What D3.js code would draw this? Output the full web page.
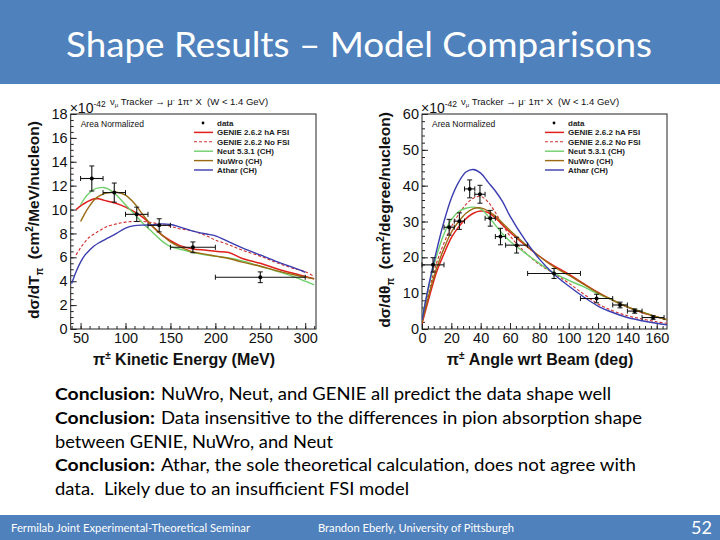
<!DOCTYPE html>
<html><head><meta charset="utf-8">
<script src="https://cdn.jsdelivr.net/npm/d3@7"></script>
<style>
html,body{margin:0;padding:0;background:#fff;}
svg{display:block;}
text{white-space:pre;}
</style></head>
<body>
<svg id="c" width="720" height="540"></svg>
<script>
// ---------- DATA ----------
// Left panel: pion kinetic energy (MeV)
const tBinLo = [50, 75, 100, 125, 150, 200];
const tBinHi = [75, 100, 125, 150, 200, 300];
const tData  = [12.6, 11.42, 9.6, 8.68, 6.84, 4.33];
const tErr   = [1.05, 0.8, 0.6, 0.55, 0.45, 0.45];
const tGrid  = [40,45,50,55,60,65,70,75,80,90,100,110,120,130,140,150,160,175,190,200,215,230,250,270,290,300,310];
const tGenieHA  = [null,10.0,10.3,10.55,10.75,10.9,10.9,10.8,10.7,10.5,10.2,9.8,9.3,8.6,7.9,7.4,7.0,6.7,6.6,6.5,6.4,5.9,5.5,5.0,4.6,4.4,4.2];
const tGenieNo  = [null,6.2,6.8,7.3,7.7,7.95,8.2,8.4,8.6,8.8,8.95,9.0,9.0,8.9,8.75,8.6,8.4,8.2,7.8,7.45,7.05,6.6,6.1,5.5,5.0,4.8,4.4];
const tNeut     = [null,null,10.4,11.0,11.4,11.7,11.82,11.85,11.75,11.2,10.4,9.6,8.8,8.1,7.4,6.9,6.7,6.4,6.2,6.1,5.95,5.7,5.25,4.8,4.3,4.0,3.7];
const tNuWro    = [null,null,9.0,9.7,10.3,10.8,11.1,11.3,11.4,11.45,11.2,10.5,9.5,8.6,7.9,7.3,6.9,6.45,6.25,6.1,5.9,5.6,5.25,4.85,4.5,4.35,4.2];
const tAthar    = [3.8,4.8,5.6,6.2,6.6,6.95,7.2,7.4,7.6,8.0,8.45,8.65,8.7,8.72,8.8,8.75,8.55,8.2,7.95,7.8,7.3,6.8,6.2,5.6,5.05,4.75,null];
const tXTicks = [50,100,150,200,250,300];
const tYTicks = [0,2,4,6,8,10,12,14,16,18];

// Right panel: pion angle (deg)
const aBinLo = [0, 15, 22, 29, 36, 43, 50, 57, 72, 108, 130, 140, 150];
const aBinHi = [15, 22, 29, 36, 43, 50, 57, 72, 108, 130, 140, 150, 165];
const aData  = [17.9, 28.4, 30.1, 39.1, 37.6, 30.9, 25.8, 23.4, 15.5, 8.5, 6.7, 5.0, 3.2];
const aErr   = [2.0, 2.2, 2.3, 2.5, 2.5, 2.2, 2.3, 2.2, 1.4, 1.2, 0.8, 0.6, 0.5];
const aGrid  = [0,5,10,15,20,25,30,35,40,45,50,55,60,70,80,90,100,110,120,130,140,150,160,167];
const aGenieHA = [1.5,9,16,21,25.5,28.5,30.8,32.3,32.9,32.5,31,29,27,23.5,20.3,17.6,15.3,12.7,10.2,8.0,6.1,4.6,3.4,2.6];
const aGenieNo = [2,11,18.5,24,28.5,32,34.8,36.5,37,35.5,32.5,29,26,21.5,18,15.5,12.8,9.8,7.0,5.1,3.7,2.8,2.0,1.6];
const aNeut    = [3,12.5,20.5,26.5,30.5,32.8,33.7,34,33.5,31.5,29,26.5,24.5,21.3,18.3,15.6,13.6,11.8,9.8,8.0,6.2,4.8,3.4,2.6];
const aNuWro   = [1.8,10,17,22.5,27,30,32.3,33.6,33.8,33,31.5,29.5,27.5,23.8,20.3,17.3,15.0,12.5,10.1,8.1,6.2,4.7,3.4,2.6];
const aAthar   = [2.5,13,22,30,36.5,41,43.8,44.5,43.5,41,38.5,35.5,31.5,25,19.5,15.3,12.0,9.0,6.4,4.6,3.2,2.3,1.6,1.2];
const aXTicks = [0,20,40,60,80,100,120,140,160];
const aYTicks = [0,10,20,30,40,50,60];

const legendLabels = ["data","GENIE 2.6.2 hA FSI","GENIE 2.6.2 No FSI","Neut 5.3.1 (CH)","NuWro (CH)","Athar (CH)"];
const bodyLines = [
  ["Conclusion:", "NuWro, Neut, and GENIE all predict the data shape well"],
  ["Conclusion:", "Data insensitive to the differences in pion absorption shape"],
  ["", "between GENIE, NuWro, and Neut"],
  ["Conclusion:", "Athar, the sole theoretical calculation, does not agree with"],
  ["", "data.  Likely due to an insufficient FSI model"]
];

// ---------- STYLE ----------
const BLUE_BAR = "#4F81BD";
const styles = [
  {stroke:"#e0201c", dash:null, w:1.5},
  {stroke:"#d0302c", dash:"3,2", w:1.1},
  {stroke:"#6fcf6a", dash:null, w:1.4},
  {stroke:"#9a6a12", dash:null, w:1.4},
  {stroke:"#3a3cb0", dash:null, w:1.4}
];
const SLIDE_FONT = "Lato, 'Open Sans', sans-serif";
const PLOT_FONT = "'Liberation Sans', Arial, Helvetica, sans-serif";

const svg = d3.select("#c");

// header
svg.append("rect").attr("x",0).attr("y",0).attr("width",720).attr("height",84).attr("fill",BLUE_BAR);
svg.append("text").attr("x",66).attr("y",57).attr("fill","#fff")
  .attr("font-family",SLIDE_FONT).attr("font-size",35)
  .attr("textLength",586).attr("lengthAdjust","spacingAndGlyphs")
  .text("Shape Results \u2013 Model Comparisons");

// footer
svg.append("rect").attr("x",0).attr("y",515).attr("width",720).attr("height",25).attr("fill",BLUE_BAR);
svg.append("text").attr("x",11).attr("y",532).attr("fill","#fff").attr("font-family",SLIDE_FONT).attr("font-size",11.5)
  .attr("textLength",239).attr("lengthAdjust","spacingAndGlyphs").text("Fermilab Joint Experimental-Theoretical Seminar");
svg.append("text").attr("x",318).attr("y",532).attr("fill","#fff").attr("font-family",SLIDE_FONT).attr("font-size",11.5)
  .attr("textLength",196).attr("lengthAdjust","spacingAndGlyphs").text("Brandon Eberly, University of Pittsburgh");
svg.append("text").attr("x",712).attr("y",534).attr("fill","#fff").attr("font-family",SLIDE_FONT).attr("font-size",18)
  .attr("text-anchor","end").text("52");

// body text
const lineY = [400, 424, 447.5, 471, 495];
const restX = [161, 161, 55, 161, 55];
const restEnd = [611, 642, 333, 636, 409];
bodyLines.forEach((l, i) => {
  if (l[0]) {
    svg.append("text").attr("x",55).attr("y",lineY[i]).attr("font-family",SLIDE_FONT).attr("font-size",17.5)
      .attr("font-weight","bold").attr("fill","#000")
      .attr("textLength",100).attr("lengthAdjust","spacingAndGlyphs").text(l[0]);
  }
  svg.append("text").attr("x",restX[i]).attr("y",lineY[i]).attr("font-family",SLIDE_FONT).attr("font-size",17.5)
    .attr("fill","#000").attr("textLength",restEnd[i]-restX[i]).attr("lengthAdjust","spacingAndGlyphs").text(l[1]);
});

// ---------- PLOT FUNCTION ----------
function drawPanel(cfg) {
  const x = d3.scaleLinear().domain(cfg.xDomain).range([cfg.x0, cfg.x1]);
  const y = d3.scaleLinear().domain(cfg.yDomain).range([cfg.y0, cfg.y1]);
  const g = svg.append("g");
  const clipId = "clip" + cfg.id;
  svg.append("clipPath").attr("id", clipId).append("rect")
    .attr("x", cfg.x0).attr("y", cfg.y1).attr("width", cfg.x1 - cfg.x0).attr("height", cfg.y0 - cfg.y1);

  // axes (inward ticks, ROOT style)
  const xAxis = d3.axisBottom(x).tickValues(cfg.xTicks).tickSize(-6).tickSizeOuter(0).tickPadding(4).tickFormat(d3.format("d"));
  const xMinor = d3.axisBottom(x).tickValues(cfg.xMinor).tickSize(-3).tickSizeOuter(0).tickFormat("");
  const yAxis = d3.axisLeft(y).tickValues(cfg.yTicks).tickSize(-6).tickSizeOuter(0).tickPadding(3).tickFormat(d3.format("d"));
  const yMinor = d3.axisLeft(y).tickValues(cfg.yMinor).tickSize(-3).tickSizeOuter(0).tickFormat("");
  const axG = [
    g.append("g").attr("transform", `translate(0,${cfg.y0})`).call(xMinor),
    g.append("g").attr("transform", `translate(0,${cfg.y0})`).call(xAxis),
    g.append("g").attr("transform", `translate(${cfg.x0},0)`).call(yMinor),
    g.append("g").attr("transform", `translate(${cfg.x0},0)`).call(yAxis)
  ];
  axG.forEach(a => {
    a.selectAll("text").attr("font-family", PLOT_FONT).attr("font-size", 14.5).attr("fill", "#111");
    a.selectAll("line").attr("stroke", "#222");
    a.select(".domain").remove();
  });

  // frame
  g.append("rect").attr("x", cfg.x0).attr("y", cfg.y1).attr("width", cfg.x1 - cfg.x0).attr("height", cfg.y0 - cfg.y1)
    .attr("fill", "none").attr("stroke", "#222").attr("stroke-width", 1);

  // x10^-42
  const ex = g.append("text").attr("x", cfg.x0 - 1).attr("y", cfg.y1 - 1).attr("font-family", PLOT_FONT).attr("font-size", 14).attr("fill", "#111");
  ex.append("tspan").text("\u00d710");
  ex.append("tspan").attr("dy", -6).attr("font-size", 8.5).text("-42");

  // title
  const t = g.append("text").attr("x", cfg.titleX).attr("y", 105).attr("text-anchor", "middle")
    .attr("font-family", PLOT_FONT).attr("font-size", 9.5).attr("fill", "#111");
  t.append("tspan").text("\u03bd");
  t.append("tspan").attr("dy", 2).attr("font-size", 6).text("\u03bc");
  t.append("tspan").attr("dy", -2).text(" Tracker \u2192 \u03bc");
  t.append("tspan").attr("dy", -3).attr("font-size", 6).text("-");
  t.append("tspan").attr("dy", 3).text(" 1\u03c0");
  t.append("tspan").attr("dy", -3).attr("font-size", 6).text("+");
  t.append("tspan").attr("dy", 3).text(" X  (W < 1.4 GeV)");

  g.append("text").attr("x", cfg.x0 + 10).attr("y", 127).attr("font-family", PLOT_FONT).attr("font-size", 8.5)
    .attr("fill", "#111").text("Area Normalized");

  // curves
  const cg = g.append("g").attr("clip-path", `url(#${clipId})`);
  cfg.series.forEach((s, i) => {
    const pts = cfg.grid.map((v, k) => [v, s[k]]);
    const line = d3.line().defined(d => d[1] !== null).x(d => x(d[0])).y(d => y(d[1])).curve(d3.curveCatmullRom.alpha(0.5));
    cg.append("path").attr("d", line(pts)).attr("fill", "none")
      .attr("stroke", styles[i].stroke).attr("stroke-width", styles[i].w)
      .attr("stroke-dasharray", styles[i].dash);
  });

  // data points
  const dg = g.append("g");
  cfg.data.forEach((v, k) => {
    const cx = x((cfg.lo[k] + cfg.hi[k]) / 2);
    const cy = y(v);
    dg.append("line").attr("x1", x(cfg.lo[k])).attr("x2", x(cfg.hi[k])).attr("y1", cy).attr("y2", cy).attr("stroke", "#111").attr("stroke-width", 1.1);
    dg.append("line").attr("x1", cx).attr("x2", cx).attr("y1", y(v + cfg.err[k])).attr("y2", y(v - cfg.err[k])).attr("stroke", "#111").attr("stroke-width", 1.1);
    [v + cfg.err[k], v - cfg.err[k]].forEach(e => {
      dg.append("line").attr("x1", cx - 2.5).attr("x2", cx + 2.5).attr("y1", y(e)).attr("y2", y(e)).attr("stroke", "#111").attr("stroke-width", 1);
    });
    [cfg.lo[k], cfg.hi[k]].forEach(e => {
      dg.append("line").attr("x1", x(e)).attr("x2", x(e)).attr("y1", cy - 2.5).attr("y2", cy + 2.5).attr("stroke", "#111").attr("stroke-width", 1);
    });
    dg.append("circle").attr("cx", cx).attr("cy", cy).attr("r", 2).attr("fill", "#000");
  });

  // legend
  const lg = g.append("g");
  legendLabels.forEach((lab, i) => {
    const ly = 123 + i * 9.4;
    if (i === 0) {
      lg.append("circle").attr("cx", cfg.legX + 9).attr("cy", ly).attr("r", 1.4).attr("fill", "#000");
    } else {
      const st = styles[i - 1];
      lg.append("line").attr("x1", cfg.legX).attr("x2", cfg.legX + 19).attr("y1", ly).attr("y2", ly)
        .attr("stroke", st.stroke).attr("stroke-width", st.w).attr("stroke-dasharray", st.dash);
    }
    lg.append("text").attr("x", cfg.legX + 23).attr("y", ly + 3).attr("font-family", PLOT_FONT).attr("font-size", 8)
      .attr("font-weight", "bold").attr("fill", "#222").text(lab);
  });

  // axis labels
  const xl = g.append("text").attr("x", cfg.xLabelX).attr("y", 365).attr("text-anchor", "middle")
    .attr("font-family", PLOT_FONT).attr("font-size", 16).attr("font-weight", "bold").attr("fill", "#111");
  xl.append("tspan").text("\u03c0");
  xl.append("tspan").attr("dy", -6).attr("font-size", 10).text("\u00b1");
  xl.append("tspan").attr("dy", 6).text(" " + cfg.xLabel);

  const yl = g.append("text").attr("transform", `translate(${cfg.yLabelX},${cfg.yLabelY}) rotate(-90)`)
    .attr("text-anchor", "middle").attr("font-family", PLOT_FONT).attr("font-size", 15.5).attr("font-weight", "bold").attr("fill", "#111");
  yl.append("tspan").text("d\u03c3/d" + cfg.yVar);
  yl.append("tspan").attr("dy", 4).attr("font-size", 10).text("\u03c0");
  yl.append("tspan").attr("dy", -4).text("  (cm");
  yl.append("tspan").attr("dy", -6).attr("font-size", 10).text("2");
  yl.append("tspan").attr("dy", 6).text("/" + cfg.yUnit + "/nucleon)");
}

drawPanel({
  id: "L", x0: 70.7, x1: 316, y0: 329, y1: 114,
  xDomain: [39, 312], yDomain: [0, 18],
  xTicks: tXTicks, xMinor: d3.range(40, 311, 10), yTicks: tYTicks, yMinor: d3.range(0, 18.01, 0.5),
  grid: tGrid, series: [tGenieHA, tGenieNo, tNeut, tNuWro, tAthar],
  lo: tBinLo, hi: tBinHi, data: tData, err: tErr,
  titleX: 189, legX: 194, xLabelX: 184, xLabel: "Kinetic Energy (MeV)",
  yLabelX: 39, yLabelY: 220, yVar: "T", yUnit: "MeV"
});
drawPanel({
  id: "R", x0: 422, x1: 667, y0: 329, y1: 114,
  xDomain: [0, 167], yDomain: [0, 60],
  xTicks: aXTicks, xMinor: d3.range(0, 167, 4), yTicks: aYTicks, yMinor: d3.range(0, 60.01, 2),
  grid: aGrid, series: [aGenieHA, aGenieNo, aNeut, aNuWro, aAthar],
  lo: aBinLo, hi: aBinHi, data: aData, err: aErr,
  titleX: 540, legX: 545, xLabelX: 540, xLabel: "Angle wrt Beam (deg)",
  yLabelX: 390, yLabelY: 220, yVar: "\u03b8", yUnit: "degree"
});
</script>
</body></html>
